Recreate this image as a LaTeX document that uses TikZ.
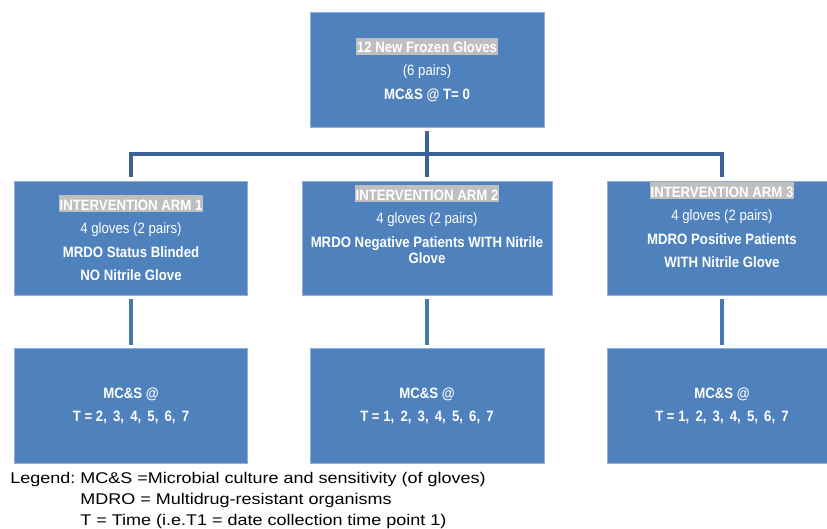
\documentclass[tikz,border=0pt]{standalone}
\usepackage{fontspec}
\setmainfont{Liberation Sans}
\newfontfamily\boxfont{Liberation Sans}[FakeStretch=0.88]
\newfontfamily\legendfont{Liberation Sans}[FakeStretch=1.16]
\usetikzlibrary{positioning}
\usepackage{xcolor}
\definecolor{boxblue}{HTML}{4F81BD}
\definecolor{edgeblue}{HTML}{8EAEDB}
\definecolor{treeblue}{HTML}{3C6397}
\definecolor{stemblue}{HTML}{4A78B3}
\definecolor{markgrey}{HTML}{BFBFBF}
\newcommand{\marked}[1]{{\setlength{\fboxsep}{1pt}\colorbox{markgrey}{\rule[-1pt]{0pt}{15pt}#1}}}

\begin{document}
\begin{tikzpicture}[x=1pt, y=-1pt, every node/.style={
    rectangle,
    inner sep=0pt,
    draw=edgeblue,
    line width=0.8pt,
    fill=boxblue,
    text=white,
    align=center,
    font=\boxfont\fontsize{15}{23.3}\selectfont
}]

    \useasboundingbox (0,0) rectangle (827,528);



    \node (new_frozen_gloves) [minimum width=234pt, minimum height=115pt, shift={(427, 69.5)}]
    {
        \marked{\textbf{12 New Frozen Gloves}}\\
        (6 pairs)\\
        \textbf{MC\&S @ T= 0}
    };





    \node (intervention_arm_one) [minimum width=233pt, minimum height=114pt, shift={(131, 238)}]
    {
        \marked{\textbf{INTERVENTION ARM 1}}\\
        4 gloves (2 pairs)\\
        \textbf{MRDO Status Blinded}\\
        \textbf{NO Nitrile Glove}
    };

    \node (intervention_arm_two) [minimum width=250pt, minimum height=114pt, shift={(427, 238)}]
    {
        \marked{\textbf{INTERVENTION ARM 2}}\\
        4 gloves (2 pairs)\\
        \textbf{MRDO Negative Patients WITH Nitrile}\\[-7pt]
        \textbf{Glove}\\[4pt]
        ~
    };

    \node (intervention_arm_three) [minimum width=230pt, minimum height=114pt, shift={(722, 238)}]
    {
        \marked{\textbf{INTERVENTION ARM 3}}\\
        4 gloves (2 pairs)\\
        \textbf{MDRO Positive Patients}\\
        \textbf{WITH Nitrile Glove}\\[3pt]
        ~
    };





    \node (time_points_one) [minimum width=233pt, minimum height=115pt, shift={(131, 406)}]
    {
        \textbf{MC\&S @}\\
        \textbf{T = 2,\, 3,\, 4,\, 5,\, 6,\, 7}
    };

    \node (time_points_two) [minimum width=234pt, minimum height=115pt, shift={(427, 406)}]
    {
        \textbf{MC\&S @}\\
        \textbf{T = 1,\, 2,\, 3,\, 4,\, 5,\, 6,\, 7}
    };

    \node (time_points_three) [minimum width=230pt, minimum height=115pt, shift={(722, 406)}]
    {
        \textbf{MC\&S @}\\
        \textbf{T = 1,\, 2,\, 3,\, 4,\, 5,\, 6,\, 7}
    };





    \node (legend_text) [draw=none, fill=none, text=black, anchor=base west, shift={(10, 483.5)},
        font=\legendfont\fontsize{15.5}{21}\selectfont]
    {
        \begin{tabular}[t]{@{}l@{\ }l@{}}
            Legend: & MC\&S =Microbial culture and sensitivity (of gloves)\\
                    & MDRO = Multidrug-resistant organisms\\
                    & T = Time (i.e.T1 = date collection time point 1)
        \end{tabular}
    };


    \coordinate (arm_split) at (427, 154);

    \draw[treeblue, line width=4pt, shorten <=4pt, shorten >=4pt] (new_frozen_gloves) to (intervention_arm_two);
    \draw[treeblue, line width=4pt, shorten >=4pt] (arm_split) -| (intervention_arm_one);
    \draw[treeblue, line width=4pt, shorten >=4pt] (arm_split) -| (intervention_arm_three);

    \draw[stemblue, line width=4pt, shorten <=4pt, shorten >=3pt] (intervention_arm_one) to (time_points_one);
    \draw[stemblue, line width=4pt, shorten <=4pt, shorten >=3pt] (intervention_arm_two) to (time_points_two);
    \draw[stemblue, line width=4pt, shorten <=4pt, shorten >=3pt] (intervention_arm_three) to (time_points_three);


\end{tikzpicture}
\end{document}
